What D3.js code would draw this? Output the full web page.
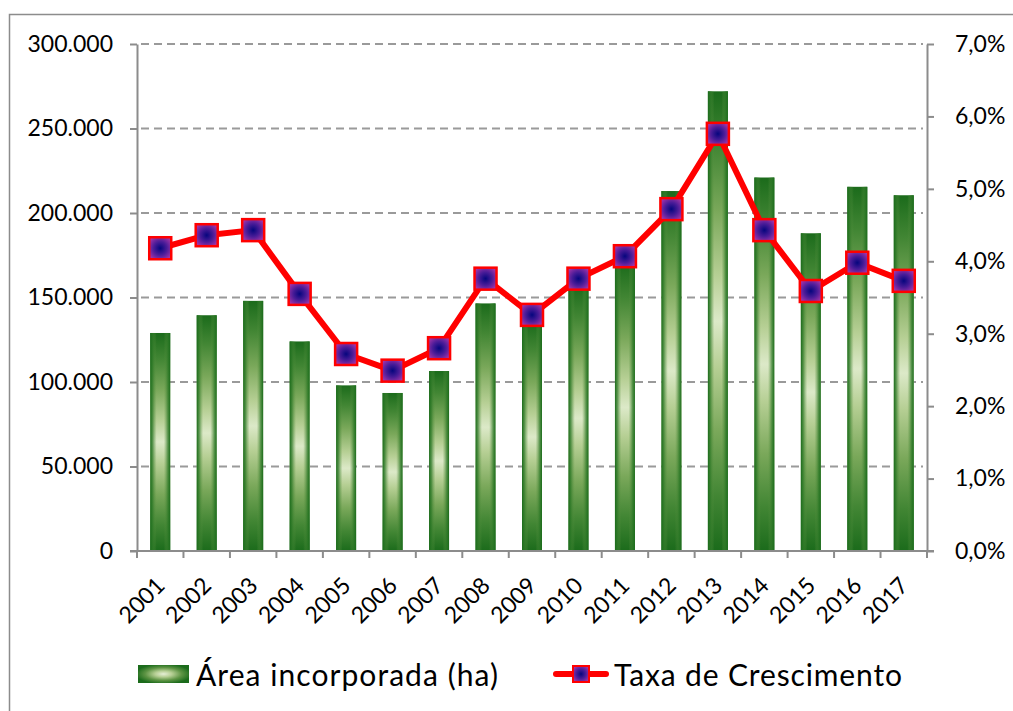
<!DOCTYPE html>
<html lang="pt">
<head>
    <meta charset="UTF-8">
    <title>Área incorporada</title>
    <script src="https://cdn.jsdelivr.net/npm/d3@7"></script>
    <style>
        body { margin: 0; background: #fff; }
        text { font-family: Lato, "Open Sans", sans-serif; fill: #000; }
    </style>
</head>
<body>
    <svg width="1013" height="711" id="mainsvg" style="display: block;"></svg>
    <script>
        const years = ["2001", "2002", "2003", "2004", "2005", "2006", "2007", "2008", "2009",
                       "2010", "2011", "2012", "2013", "2014", "2015", "2016", "2017"];
        // área incorporada (ha)
        const area = [129000, 139500, 148000, 124000, 98000, 93500, 106500, 146500, 135000,
                      157000, 170000, 213000, 272000, 221000, 188000, 215500, 210500];
        // taxa de crescimento
        const taxa = [0.0418, 0.0436, 0.0443, 0.0355, 0.0272, 0.0249, 0.0280, 0.0376, 0.0326,
                      0.0376, 0.0407, 0.0472, 0.0576, 0.0443, 0.0359, 0.0398, 0.0373];
        const leftTicks = [0, 50000, 100000, 150000, 200000, 250000, 300000];
        const rightTicks = [0, 0.01, 0.02, 0.03, 0.04, 0.05, 0.06, 0.07];
        const seriesNames = ["Área incorporada (ha)", "Taxa de Crescimento"];

        const svg = d3.select("#mainsvg");
        const margin = {top: 44, right: 86, bottom: 160, left: 137};
        const innerWidth = +svg.attr("width") - margin.left - margin.right;
        const innerHeight = +svg.attr("height") - margin.top - margin.bottom;

        const ptBR = d3.formatLocale({decimal: ",", thousands: ".", grouping: [3], currency: ["R$", ""]});

        // gradients (rough take on the excel "from center" rectangle fill)
        const defs = svg.append("defs");
        const greens = [[0, "#1b6b1b"], [0.12, "#428634"], [0.26, "#7aa85a"], [0.4, "#b6cf94"],
                        [0.5, "#dce9c8"], [0.6, "#b6cf94"], [0.74, "#7aa85a"], [0.88, "#428634"], [1, "#1b6b1b"]];
        const barV = defs.append("linearGradient").attr("id", "barV")
            .attr("x1", 0).attr("x2", 0).attr("y1", 0).attr("y2", 1);
        greens.forEach(s => barV.append("stop").attr("offset", s[0]).attr("stop-color", s[1]));
        const barH = defs.append("linearGradient").attr("id", "barH")
            .attr("x1", 0).attr("x2", 1).attr("y1", 0).attr("y2", 0);
        [[0, "#1b6b1b", 1], [0.12, "#2f7a28", 0.75], [0.32, "#5e9444", 0], [0.68, "#5e9444", 0],
         [0.88, "#2f7a28", 0.75], [1, "#1b6b1b", 1]].forEach(s =>
            barH.append("stop").attr("offset", s[0]).attr("stop-color", s[1]).attr("stop-opacity", s[2]));
        const swatch = defs.append("radialGradient").attr("id", "swatch")
            .attr("cx", "50%").attr("cy", "50%").attr("r", "55%");
        [[0, "#e6efd6"], [0.3, "#b6cf94"], [0.65, "#5e9444"], [1, "#1b6b1b"]].forEach(s =>
            swatch.append("stop").attr("offset", s[0]).attr("stop-color", s[1]));
        const markGrad = defs.append("radialGradient").attr("id", "markGrad")
            .attr("cx", "50%").attr("cy", "50%").attr("r", "60%");
        [[0, "#06067e"], [0.5, "#4a1c98"], [1, "#a434a8"]].forEach(s =>
            markGrad.append("stop").attr("offset", s[0]).attr("stop-color", s[1]));

        // outer frame (only top and left edges show inside the picture)
        svg.append("path").attr("d", "M9.5,711 V14.5 H1013")
            .attr("fill", "none").attr("stroke", "#8c8c8c").attr("stroke-width", 1.5);

        const g = svg.append("g").attr("transform", `translate(${margin.left}, ${margin.top})`);

        const x = d3.scaleBand().domain(years).range([0, innerWidth])
            .paddingInner(0.57).paddingOuter(0.285);
        const y = d3.scaleLinear().domain([0, 300000]).range([innerHeight, 0]);
        const y2 = d3.scaleLinear().domain([0, 0.07]).range([innerHeight, 0]);
        const cx = d => x(d) + x.bandwidth() / 2;

        // gridlines
        g.append("g").selectAll("line").data(leftTicks.filter(d => d > 0)).join("line")
            .attr("x1", 4).attr("x2", innerWidth - 4)
            .attr("y1", d => y(d)).attr("y2", d => y(d))
            .attr("stroke", "#9a9a9a").attr("stroke-width", 2).attr("stroke-dasharray", "8,5");

        // bars
        const bars = g.append("g").selectAll("g").data(area).join("g");
        ["url(#barV)", "url(#barH)"].forEach(f => {
            bars.append("rect")
                .attr("x", (d, i) => x(years[i]))
                .attr("y", d => y(d))
                .attr("width", x.bandwidth())
                .attr("height", d => innerHeight - y(d))
                .attr("fill", f);
        });

        // axes
        const styleAxis = sel => {
            sel.selectAll("path, line").attr("stroke", "#8c8c8c").attr("stroke-width", 2);
            sel.selectAll("text").attr("font-size", 23).attr("fill", "#000")
                .style("font-family", "Lato, 'Open Sans', sans-serif");
        };
        g.append("g")
            .call(d3.axisLeft(y).tickValues(leftTicks).tickSize(7).tickSizeOuter(0)
                .tickPadding(17).tickFormat(ptBR.format(",.0f")))
            .call(styleAxis);
        g.append("g").attr("transform", `translate(${innerWidth},0)`)
            .call(d3.axisRight(y2).tickValues(rightTicks).tickSize(7).tickSizeOuter(0)
                .tickPadding(21).tickFormat(ptBR.format(".1%")))
            .call(styleAxis);

        // category axis with ticks between categories
        const xg = g.append("g").attr("transform", `translate(0,${innerHeight})`);
        xg.append("line").attr("x1", -7).attr("x2", innerWidth + 7)
            .attr("stroke", "#8c8c8c").attr("stroke-width", 2);
        xg.selectAll(".tk").data(d3.range(years.length + 1)).join("line").attr("class", "tk")
            .attr("x1", i => i * x.step()).attr("x2", i => i * x.step())
            .attr("y1", 0).attr("y2", 7)
            .attr("stroke", "#8c8c8c").attr("stroke-width", 2);
        xg.selectAll("text").data(years).join("text")
            .attr("transform", d => `translate(${cx(d) + 6}, 36) rotate(-45)`)
            .attr("text-anchor", "end")
            .attr("font-size", 23)
            .text(d => d);

        // line series
        const line = d3.line().x((d, i) => cx(years[i])).y(d => y2(d));
        g.append("path").datum(taxa)
            .attr("fill", "none").attr("stroke", "#ff0000").attr("stroke-width", 6)
            .attr("stroke-linejoin", "round")
            .attr("d", line);
        const ms = 22;
        g.append("g").selectAll("rect").data(taxa).join("rect")
            .attr("x", (d, i) => cx(years[i]) - ms / 2)
            .attr("y", d => y2(d) - ms / 2)
            .attr("width", ms).attr("height", ms)
            .attr("fill", "url(#markGrad)")
            .attr("stroke", "#ff0000").attr("stroke-width", 2.5);

        // legend
        const lg = svg.append("g");
        lg.append("rect").attr("x", 138).attr("y", 665).attr("width", 51).attr("height", 18)
            .attr("fill", "url(#swatch)");
        lg.append("text").attr("x", 196).attr("y", 686).attr("font-size", 30)
            .attr("textLength", 302).attr("lengthAdjust", "spacing").text(seriesNames[0]);
        lg.append("line").attr("x1", 556).attr("x2", 606).attr("y1", 674).attr("y2", 674)
            .attr("stroke", "#ff0000").attr("stroke-width", 6).attr("stroke-linecap", "round");
        lg.append("rect").attr("x", 573).attr("y", 666).attr("width", 16).attr("height", 16)
            .attr("fill", "url(#markGrad)").attr("stroke", "#ff0000").attr("stroke-width", 2);
        lg.append("text").attr("x", 614).attr("y", 686).attr("font-size", 30)
            .attr("textLength", 288).attr("lengthAdjust", "spacing").text(seriesNames[1]);
    </script>
</body>
</html>
